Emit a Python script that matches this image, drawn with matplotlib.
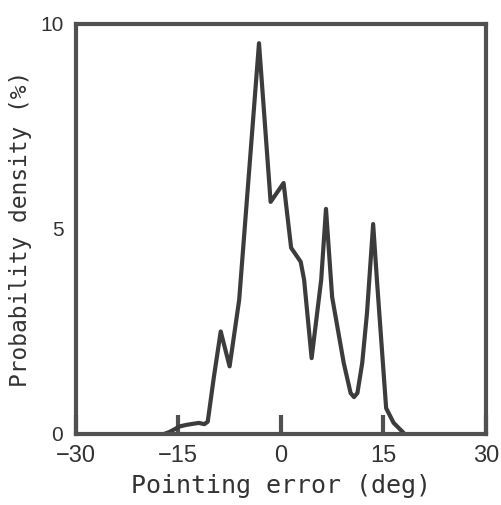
import matplotlib
matplotlib.use("Agg")
import matplotlib.pyplot as plt

# Data
err_deg = [-17.1, -16.3, -15.5, -14.9, -13.9, -12.8, -12.0, -11.2, -10.7,
           -9.8, -8.8, -7.5, -6.1, -3.2, -1.5, 0.4, 1.5, 2.9, 3.4, 4.5,
           5.9, 6.6, 7.5, 9.2, 10.2, 10.7, 11.2, 11.9, 12.6, 13.5, 14.05,
           15.4, 16.5, 18.0]
density = [0.0, 0.05, 0.12, 0.18, 0.22, 0.25, 0.27, 0.24, 0.3,
           1.39, 2.5, 1.65, 3.27, 9.53, 5.66, 6.12, 4.54, 4.2, 3.76, 1.85,
           3.76, 5.49, 3.34, 1.73, 1.0, 0.9, 1.0, 1.73, 2.95, 5.12, 3.76,
           0.63, 0.27, 0.02]
xticks = [-30, -15, 0, 15, 30]
yticks = [0, 5, 10]

fig = plt.figure(figsize=(5.02, 5.05), dpi=100)
ax = fig.add_axes([0.151, 0.1406, 0.817, 0.812])

line_col = "#3c3c3c"
spine_col = "#505050"
ax.plot(err_deg, density, color=line_col, lw=3.0, solid_joinstyle="round",
        solid_capstyle="butt")

ax.set_xlim(-30, 30)
ax.set_ylim(0, 10)
for s in ax.spines.values():
    s.set_linewidth(3.0)
    s.set_color(spine_col)

ax.set_xticks(xticks)
ax.set_xticklabels(["\u221230", "\u221215", "0", "15", "30"],
                   family="Liberation Sans", fontsize=17)
ax.set_yticks(yticks)
ax.set_yticklabels([str(v) for v in yticks], family="Liberation Sans",
                   fontsize=15)
ax.tick_params(axis="x", direction="in", length=14, width=3, color=spine_col,
               pad=8, labelcolor="#333333")
ax.tick_params(axis="y", length=0, pad=9, labelcolor="#333333")

ax.set_xlabel("Pointing error (deg)", family="DejaVu Sans Mono", fontsize=18,
              color="#333333", labelpad=5)
ax.set_ylabel("Probability density (%)", family="DejaVu Sans Mono",
              fontsize=16.5, color="#333333", labelpad=6)

fig.savefig("out.png", dpi=100)
